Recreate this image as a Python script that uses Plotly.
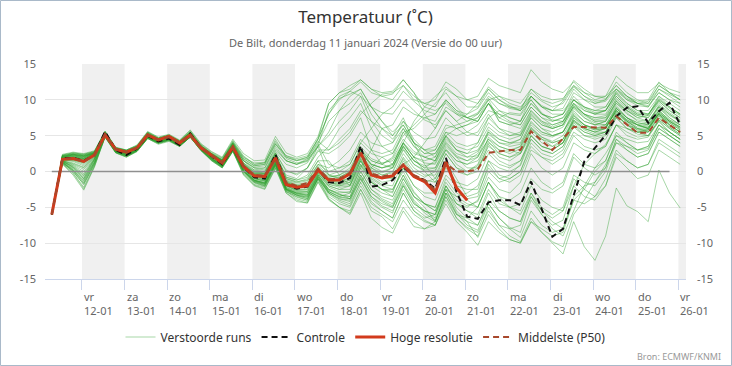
import plotly.graph_objects as go
import pandas as pd

# ---------------- data ----------------
times = pd.date_range("2024-01-11 07:00", periods=60, freq="6h")

hres = [-6.0, 1.7, 1.8, 1.4, 2.3, 5.1, 3.1, 2.7, 3.3, 5.1, 4.4, 4.9, 4.0, 5.1, 3.3, 2.2, 1.2, 3.4,
        0.7, -0.6, -0.7, 1.9, -1.8, -2.2, -2.0, 0.2, -1.2, -1.2, -0.3, 2.6, -0.5, -0.9, -0.6, 0.9,
        -0.7, -1.4, -3.0, 1.3, -2.3, -4.0]

control = [-6.0, 1.9, 1.9, 1.5, 2.3, 5.6, 3.0, 2.3, 3.2, 5.0, 4.2, 4.6, 3.7, 5.3, 3.3, 2.2, 1.0, 3.3,
           0.6, -0.8, -1.0, 2.4, -1.8, -2.4, -2.1, 0.3, -1.5, -1.6, -0.9, 3.6, -2.1, -1.9, -1.2, 0.6,
           -0.6, -1.2, -2.4, 1.9, -2.8, -6.3, -6.6, -4.3, -4.0, -4.0, -4.7, -1.4, -5.3, -9.1, -8.0, -3.3,
           1.4, 3.3, 5.1, 7.7, 8.9, 9.1, 6.8, 8.4, 9.6, 6.5]

median = [-6.0, 1.8, 1.8, 1.4, 2.3, 5.2, 3.1, 2.7, 3.3, 5.1, 4.4, 4.8, 4.0, 5.1, 3.3, 2.2, 1.2, 3.4,
          0.8, -0.5, -0.6, 1.8, -1.5, -2.0, -1.6, 0.4, -1.1, -1.0, -0.2, 2.6, -0.3, -0.7, -0.4, 1.0,
          -0.5, -1.2, -2.6, 1.1, 0.0, 0.0, 0.3, 2.6, 2.8, 3.0, 3.0, 5.6, 4.3, 3.0, 4.6, 6.2,
          6.2, 6.1, 6.1, 7.7, 6.5, 5.4, 5.4, 7.5, 6.5, 5.5]

run_01 = [-6,2.0,2.2,2.0,2.6,5.4,3.2,2.8,3.5,5.2,4.6,5.0,4.2,5.4,3.6,2.5,1.6,3.9, 1.5,0.5,0.2,2.8,1.0,0.5,1.2,3.5,5.5,8.5,10.5,11.5,9.0,7.0,5.0,6.5,4.0,3.0,3.5,6.5,6.0,6.5,7.5,9.5, 7.5,8.2,8.0,10.5,9.2,8.5,9.8,12.0,10.5,9.5,9.8,11.5,10.2,9.5,9.2,11.0,10.0,9.0]
run_02 = [-6,1.5,0.6,-1.0,1.6,5.0,2.9,2.4,3.1,4.9,4.2,4.6,3.8,5.0,3.1,1.9,0.9,3.1, 0.2,-1.2,-1.5,1.2,-2.5,-3.0,-3.2,-0.5,-2.5,-3.2,-3.8,-0.8,-3.5,-4.8,-5.5,-2.5,-5.0,-6.2,-7.0,-3.0,-5.8,-7.5,-8.2,-4.5, -6.5,-7.8,-8.5,-4.0,-6.0,-7.5,-6.8,-2.0,1.0,2.5,3.8,6.5,6.0,5.5,5.0,7.2,6.0,5.0]
run_03 = [-6,1.8,1.9,1.6,2.4,5.2,3.1,2.7,3.3,5.1,4.4,4.9,4.0,5.2,3.4,2.3,1.3,3.5, 0.8,-0.4,-0.6,2.0,-1.5,-2.0,-1.8,0.6,-0.8,-0.5,0.5,3.2,1.5,1.0,1.8,4.5,2.8,2.0,1.5,4.2,2.5,2.0,2.8,5.2, 4.0,3.5,3.8,6.5,5.2,4.8,5.5,7.8,6.5,6.0,6.2,8.5,7.0,6.0,5.8,7.8,6.5,5.5]
run_04 = [-6,2.3,2.6,2.4,2.8,5.6,3.3,3.0,3.6,5.5,4.7,5.1,4.3,5.7,3.8,2.7,1.9,4.3, 2.2,1.0,1.2,4.5,2.0,1.5,2.0,4.5,8.0,10.0,11.2,12.5,11.0,10.5,10.8,12.8,11.0,9.0,8.5,9.5,8.0,7.5,8.2,10.5, 9.5,9.0,8.8,11.0,9.8,9.0,9.5,11.8,10.5,9.8,10.0,12.5,11.0,10.0,9.5,12.0,11.0,10.0]
run_05 = [-6,1.3,0.0,-1.8,1.0,4.9,2.7,2.2,2.9,4.7,4.0,4.4,3.6,4.9,3.0,1.7,0.7,3.0, 0.0,-1.5,-2.0,1.0,-2.8,-3.5,-4.0,-0.8,-3.0,-3.8,-4.2,-1.0,-3.8,-5.0,-5.8,-2.0,-4.5,-5.5,-6.5,-2.5,-3.5,-3.0,-2.0,1.5, 0.5,0.0,0.8,4.5,3.0,2.5,3.5,6.8,5.5,5.0,5.5,8.0,6.5,5.5,5.8,8.2,7.0,6.0]
run_06 = [-6,1.6,1.5,1.0,2.1,5.0,3.0,2.6,3.2,5.0,4.3,4.8,3.9,5.0,3.2,2.1,1.1,3.3, 0.5,-0.8,-1.0,1.6,-2.0,-2.6,-2.5,0.0,-1.5,-1.8,-1.2,2.0,0.5,-0.5,-0.2,3.0,1.0,0.2,0.5,3.5,2.0,1.5,2.5,5.8, 4.5,4.0,4.5,7.5,6.0,5.5,6.2,8.8,7.5,6.8,6.5,8.2,6.8,5.8,5.5,7.5,6.2,5.2]
run_07 = [-6,2.1,2.4,2.2,2.6,5.4,3.2,2.8,3.4,5.3,4.5,5.0,4.1,5.4,3.5,2.4,1.5,3.8, 1.2,0.2,0.0,2.6,0.2,-0.5,0.5,3.0,3.0,4.5,6.0,8.5,7.0,6.0,6.5,9.0,8.0,7.5,7.0,9.8,8.2,7.5,8.0,10.2, 8.5,8.0,7.8,10.0,8.2,7.0,7.5,9.5,8.0,7.0,7.2,9.8,8.2,7.0,6.8,9.2,8.0,7.0]
run_08 = [-6,1.0,-0.5,-2.6,0.6,4.8,2.6,2.0,2.8,4.6,3.8,4.2,3.5,4.8,3.0,1.5,0.5,2.8, -0.5,-2.0,-2.5,0.5,-3.0,-4.0,-4.4,-1.5,-4.0,-5.0,-5.8,-2.5,-5.5,-6.3,-8.0,-5.0,-7.0,-8.0,-7.5,-3.5,-6.0,-7.0,-9.2,-6.0, -8.0,-9.5,-10.0,-7.0,-8.5,-9.8,-10.5,-6.0,-4.0,-1.5,1.0,4.0,3.5,3.0,3.2,6.0,5.0,4.0]
run_09 = [-6,1.9,2.0,1.8,2.5,5.3,3.2,2.8,3.4,5.2,4.5,5.0,4.1,5.3,3.5,2.4,1.4,3.7, 1.5,0.2,0.5,3.5,1.5,1.0,1.8,4.2,3.0,4.0,5.5,8.0,9.5,10.8,11.0,12.0,10.0,9.5,10.0,12.5,11.5,10.0,9.5,11.5, 10.0,9.2,8.5,10.0,8.0,7.2,7.0,9.0,7.5,6.5,7.0,9.5,8.5,7.5,7.8,10.5,9.5,8.5]
run_10 = [-6,1.7,1.7,1.3,2.2,5.1,3.0,2.6,3.3,5.0,4.4,4.8,4.0,5.1,3.3,2.2,1.2,3.4, 0.6,-0.7,-0.9,1.8,-1.8,-2.3,-2.0,0.3,-1.3,-1.5,-0.8,2.5,0.0,-0.8,-1.0,1.8,-0.5,-1.2,-1.5,1.5,0.0,-0.5,0.5,3.5, 2.5,2.0,2.8,6.0,4.8,4.2,5.0,7.8,6.5,5.8,6.0,8.5,7.0,6.2,6.5,8.8,7.5,6.5]
run_11 = [-6,1.4,0.8,-0.3,1.8,5.0,2.8,2.4,3.0,4.8,4.1,4.5,3.7,4.9,3.1,1.8,0.8,3.1, 0.1,-1.3,-1.8,1.0,-2.6,-3.3,-3.6,-1.0,-2.8,-3.5,-3.0,0.5,3.0,6.0,5.0,7.5,4.0,1.0,-1.0,1.5,-1.0,-3.5,-3.0,0.5, -1.0,-1.5,-0.5,3.0,2.0,1.5,2.5,5.5,4.5,4.0,4.5,7.5,6.0,5.2,5.0,7.0,5.5,4.5]
run_12 = [-6,2.0,2.3,2.1,2.5,5.3,3.2,2.8,3.4,5.2,4.5,4.9,4.1,5.3,3.4,2.3,1.4,3.6, 1.0,-0.2,-0.3,2.2,-0.5,-1.0,0.5,3.5,5.0,7.0,8.5,10.5,9.0,8.2,8.0,10.0,8.5,7.2,6.5,8.5,7.0,5.5,5.0,7.5, 6.0,5.0,5.5,8.5,7.0,6.2,6.8,9.5,8.0,7.2,7.5,10.2,8.8,7.8,7.5,9.8,8.5,7.5]
run_13 = [-6,1.2,0.2,-1.5,1.2,4.9,2.7,2.2,2.9,4.7,4.0,4.4,3.6,4.8,3.0,1.7,0.7,3.0, 0.0,-1.4,-1.8,1.0,-2.5,-3.2,-3.5,-0.5,-2.8,-3.5,-3.8,-0.5,-3.0,-4.2,-5.0,-1.8,-4.2,-5.8,-6.8,-3.5,-6.5,-7.8,-8.5,-5.5, -7.5,-8.0,-7.5,-3.5,-5.5,-6.5,-5.5,-1.0,-2.5,-3.5,-2.0,2.0,0.5,-1.0,-0.5,3.0,2.0,1.0]
run_14 = [-6,1.8,2.0,1.7,2.4,5.2,3.1,2.7,3.3,5.1,4.4,4.9,4.0,5.1,3.3,2.2,1.2,3.4, 0.7,-0.5,-0.7,1.9,-1.6,-2.1,-1.9,0.4,-1.0,-1.2,-0.5,2.8,0.8,0.0,0.5,3.5,1.5,0.8,1.2,4.0,2.2,1.5,2.0,4.5, 3.0,2.5,3.2,6.2,4.8,4.0,4.5,7.2,6.0,5.5,6.0,8.8,7.5,6.8,6.5,8.0,6.5,5.5]
run_15 = [-6,2.2,2.5,2.3,2.7,5.5,3.3,2.9,3.5,5.4,4.6,5.0,4.2,5.5,3.6,2.5,1.6,4.0, 1.8,0.8,1.0,3.8,1.8,1.2,1.5,3.8,1.0,0.5,1.0,4.0,6.0,8.0,9.0,11.2,9.8,8.5,8.0,10.0,8.5,8.0,8.8,11.0, 9.5,8.8,8.5,11.5,10.0,9.5,10.0,12.7,11.5,10.5,10.5,12.0,10.5,9.5,9.8,12.0,11.0,10.0]
run_16 = [-6,1.5,1.0,0.3,1.9,5.0,2.9,2.5,3.1,4.9,4.2,4.6,3.8,5.0,3.2,2.0,1.0,3.2, 0.3,-1.0,-1.3,1.4,-2.2,-2.8,-2.8,-0.2,-2.0,-2.5,-2.0,1.0,-1.0,-2.0,-2.5,0.0,-2.8,-4.5,-5.5,-2.0,-4.0,-4.8,-4.2,-0.8, -2.5,-3.0,-1.5,2.5,0.5,-0.5,0.5,4.0,3.0,2.5,3.5,6.5,5.0,4.5,4.8,7.0,5.5,4.5]
run_17 = [-6,1.9,2.1,1.8,2.5,5.3,3.1,2.7,3.4,5.2,4.5,4.9,4.1,5.2,3.4,2.3,1.3,3.5, 0.9,-0.3,-0.4,2.4,-1.0,-1.5,-1.0,1.5,-0.5,-0.8,0.0,3.0,1.5,1.0,2.0,5.5,6.0,7.5,8.0,10.0,8.5,7.5,7.0,9.5, 7.0,6.5,7.0,9.5,8.0,7.5,8.0,10.5,9.0,8.2,8.5,11.0,9.5,8.5,8.5,10.5,9.0,8.0]
run_18 = [-6,1.1,-0.2,-2.2,0.8,4.8,2.6,2.1,2.8,4.6,3.9,4.3,3.5,4.8,2.9,1.6,0.6,2.9, -0.3,-1.8,-2.2,0.6,-2.8,-3.8,-4.2,-1.2,-3.5,-4.5,-5.0,-2.0,-4.5,-5.5,-6.5,-3.0,-5.5,-6.8,-7.5,-4.0,-6.5,-8.0,-9.0,-5.0, -7.5,-9.0,-9.8,-6.5,-8.5,-10.0,-11.5,-7.0,-10.5,-12.4,-9.0,-2.3,-4.8,-5.6,-7.0,0.2,-3.0,-5.1]
run_19 = [-6,1.6,1.6,1.2,2.2,5.1,3.0,2.6,3.2,5.0,4.3,4.8,3.9,5.1,3.3,2.2,1.2,3.4, 0.6,-0.6,-0.8,1.7,-1.7,-2.2,-2.0,0.2,-1.5,-2.0,-1.8,1.5,-0.5,-1.5,-1.2,2.0,0.0,-0.8,0.0,3.0,1.5,1.0,2.0,5.5, 4.0,3.8,4.5,7.8,6.5,6.0,6.5,9.0,7.8,7.0,7.0,9.2,7.5,6.5,6.0,8.0,6.8,5.8]
run_20 = [-6,2.4,2.7,2.5,2.9,5.6,3.4,3.0,3.7,5.6,4.8,5.2,4.4,5.8,3.9,2.8,2.0,4.5, 2.5,1.5,1.6,4.9,2.6,2.0,2.5,4.9,9.5,11.0,11.5,12.8,11.5,10.5,10.0,12.0,10.5,9.5,9.0,11.5,10.5,10.0,10.5,13.0, 12.0,11.5,11.0,14.2,12.5,11.5,11.0,12.5,11.0,10.0,10.5,13.3,12.0,11.0,11.0,12.3,11.5,11.0]
run_21 = [-6,1.3,0.3,-1.2,1.3,4.9,2.8,2.3,3.0,4.8,4.1,4.5,3.7,4.9,3.1,1.8,0.8,3.0, 0.2,-1.2,-1.6,1.2,-2.3,-3.0,-3.3,-0.6,-2.5,-3.2,-3.5,0.0,-2.5,-3.8,-4.5,-1.0,-3.5,-4.5,-5.0,-1.0,-3.0,-3.8,-3.5,1.0, -1.0,-0.5,1.0,5.0,3.5,3.0,4.0,7.0,5.8,5.2,5.5,8.0,6.5,5.8,6.0,8.5,7.2,6.5]
run_22 = [-6,1.7,1.8,1.5,2.3,5.2,3.1,2.7,3.3,5.1,4.4,4.9,4.0,5.1,3.3,2.2,1.2,3.4, 0.7,-0.5,-0.6,2.0,-1.4,-1.9,-1.7,0.5,-1.0,-0.8,0.0,3.5,1.8,1.2,1.5,4.0,2.0,1.2,1.0,3.8,2.0,0.5,0.5,3.0, 1.5,0.8,1.5,4.5,3.0,2.5,3.5,6.2,5.0,4.8,5.2,7.8,6.5,6.0,6.2,8.5,7.0,6.0]
run_23 = [-6,2.1,2.3,2.0,2.6,5.4,3.2,2.8,3.4,5.3,4.5,5.0,4.1,5.4,3.5,2.4,1.5,3.8, 1.1,0.0,-0.2,2.5,-0.8,-1.2,-0.5,2.0,3.5,6.0,7.5,9.5,6.0,3.5,2.5,5.0,6.5,8.0,9.5,11.0,9.0,7.5,7.0,9.5, 8.0,7.5,7.0,10.5,9.0,8.5,8.8,11.5,10.0,9.0,9.0,11.2,10.0,9.2,9.0,11.5,10.5,9.5]
run_24 = [-6,1.2,0.0,-1.8,1.0,4.8,2.7,2.2,2.9,4.7,4.0,4.4,3.6,4.8,3.0,1.6,0.6,2.9, -0.2,-1.6,-2.1,0.8,-2.7,-3.6,-4.0,-1.0,-3.2,-4.2,-4.8,-1.5,0.5,2.0,1.0,4.0,2.0,0.0,-1.5,1.0,-2.0,-4.0,-5.0,-1.5, -4.0,-5.0,-5.5,-2.0,-4.0,-5.0,-5.5,-2.0,-3.5,-4.0,-2.0,2.5,1.5,0.5,1.0,4.5,3.5,2.5]
run_25 = [-6,1.8,1.9,1.5,2.3,5.1,3.0,2.6,3.3,5.1,4.4,4.8,4.0,5.1,3.3,2.2,1.2,3.4, 0.7,-0.6,-0.7,1.9,-1.7,-2.2,-2.0,0.3,-1.2,-1.0,-0.5,3.0,1.0,0.5,1.0,4.0,2.5,2.0,2.5,5.0,3.5,3.0,3.5,6.2, 5.0,4.5,5.0,8.0,6.5,6.0,6.5,9.2,8.0,7.5,7.8,10.0,8.5,7.8,7.5,9.5,8.2,7.2]
run_26 = [-6,2.2,2.4,2.2,2.7,5.5,3.3,2.9,3.5,5.4,4.6,5.0,4.2,5.5,3.6,2.5,1.7,4.1, 2.0,1.0,1.2,4.0,2.0,1.5,1.8,4.0,7.0,8.5,9.5,11.0,8.0,6.0,4.5,6.5,4.0,2.5,3.0,6.0,6.5,7.0,8.0,10.0, 10.5,10.0,9.5,11.5,10.5,10.0,10.2,12.0,11.0,10.5,10.2,11.5,10.0,9.5,9.5,11.5,10.8,10.0]
run_27 = [-6,1.5,1.2,0.6,2.0,5.0,2.9,2.5,3.1,4.9,4.2,4.7,3.8,5.0,3.2,2.0,1.0,3.2, 0.4,-0.9,-1.2,1.5,-2.0,-2.6,-2.6,-0.1,-1.8,-2.2,-2.0,1.5,-0.8,-1.8,-2.0,1.5,-0.8,-1.5,-1.0,2.5,0.5,-0.5,0.0,3.8, 2.0,1.5,2.5,5.8,4.5,4.0,4.5,7.0,6.0,5.5,5.5,7.5,6.0,5.5,5.8,8.2,7.0,6.2]
run_28 = [-6,1.4,0.6,-0.6,1.7,5.0,2.8,2.3,3.0,4.8,4.1,4.5,3.7,4.9,3.1,1.8,0.8,3.1, 0.1,-1.3,-1.7,1.1,-2.5,-3.3,-3.8,-1.0,-3.8,-5.0,-6.0,-3.0,-6.5,-7.8,-8.6,-5.5,-7.7,-8.0,-7.0,-3.0,-6.0,-6.5,-5.0,-1.5, -3.5,-4.0,-3.0,0.5,-1.5,-2.5,-1.5,2.5,1.0,0.5,1.5,5.5,4.0,3.0,3.5,6.5,5.0,4.0]
run_29 = [-6,2.0,2.2,1.9,2.5,5.3,3.1,2.7,3.4,5.2,4.5,4.9,4.1,5.3,3.4,2.3,1.4,3.7, 1.0,-0.2,-0.3,2.3,-1.0,-1.4,-1.2,1.0,0.5,1.5,3.0,5.5,4.0,3.5,4.0,7.0,5.5,4.5,4.8,7.5,6.0,5.0,5.5,8.0, 6.0,5.5,5.0,7.5,6.0,5.0,5.5,8.5,7.0,6.5,7.0,9.8,8.5,7.5,7.0,9.0,7.5,6.5]
run_30 = [-6,1.3,0.4,-1.0,1.4,4.9,2.8,2.3,3.0,4.8,4.1,4.5,3.7,4.9,3.1,1.8,0.8,3.1, 0.2,-1.2,-1.6,1.3,-2.4,-3.0,-3.0,-0.3,-2.2,-2.8,-3.0,0.5,-2.0,-3.0,-3.5,-0.5,-3.0,-4.5,-5.5,-2.5,-5.5,-7.0,-7.5,-4.0, -5.5,-6.5,-7.0,-3.5,-6.0,-8.0,-9.0,-5.5,-2.0,0.5,2.5,5.0,4.5,4.0,4.2,6.5,5.5,4.5]
run_31 = [-6,1.7,1.7,1.4,2.3,5.1,3.1,2.7,3.3,5.1,4.4,4.8,4.0,5.1,3.3,2.2,1.2,3.4, 0.7,-0.5,-0.8,1.8,-1.6,-2.1,-1.9,0.4,-1.2,-1.4,-1.0,2.2,0.2,-0.5,0.0,3.2,1.0,0.0,0.2,3.0,1.0,0.0,0.8,4.0, 3.0,2.8,3.5,6.8,5.5,5.0,5.5,8.2,7.0,6.5,6.5,8.8,7.2,6.5,6.2,8.0,6.8,5.8]
run_32 = [-6,1.5,0.9,0.0,1.8,5.0,2.9,2.4,3.1,4.9,4.2,4.6,3.8,5.0,3.2,1.9,0.9,3.2, 0.3,-1.0,-1.4,1.3,-2.2,-2.9,-3.0,-0.5,-2.5,-3.0,-2.8,0.8,-1.5,-2.5,-2.5,0.5,-2.0,-3.5,-4.0,-0.5,-2.0,-2.5,-2.5,1.5, -0.5,-1.0,0.0,3.5,2.0,1.0,2.0,5.0,3.5,3.0,3.5,6.5,5.5,4.8,5.0,7.2,6.0,5.0]
run_33 = [-6,2.0,2.3,2.1,2.6,5.4,3.2,2.8,3.5,5.3,4.5,5.0,4.1,5.4,3.5,2.4,1.5,3.9, 1.5,0.5,0.5,3.0,1.5,1.0,1.6,3.5,-0.5,-1.0,-0.5,2.5,1.0,0.5,1.0,4.0,7.0,9.0,10.5,11.8,10.5,9.0,9.0,11.5, 10.0,9.0,8.5,10.5,9.0,8.0,8.0,10.0,8.5,8.0,8.5,11.0,9.5,8.5,8.0,10.0,9.0,8.0]
run_34 = [-6,1.9,2.0,1.7,2.4,5.2,3.1,2.7,3.3,5.1,4.4,4.9,4.0,5.2,3.3,2.2,1.3,3.5, 0.8,-0.4,-0.5,2.1,-1.3,-1.8,-1.5,0.8,-0.5,0.0,1.0,4.0,2.5,2.0,2.5,5.5,3.5,2.5,2.5,5.0,3.0,2.5,3.0,5.5, 4.5,4.0,4.0,7.0,5.5,5.0,5.5,8.0,6.5,6.0,6.2,8.5,7.2,6.5,6.0,8.2,7.0,6.2]
run_35 = [-6,1.1,-0.3,-2.4,0.7,4.8,2.6,2.0,2.8,4.6,3.9,4.3,3.5,4.8,2.9,1.5,0.5,2.8, -0.4,-1.9,-2.4,0.4,-3.0,-4.2,-4.4,-1.4,-3.8,-5.0,-5.5,-2.5,-5.0,-6.0,-7.0,-4.0,-6.0,-7.0,-7.5,-4.5,-7.0,-8.5,-10.3,-7.0, -8.5,-9.5,-10.0,-7.0,-8.0,-9.0,-8.5,-4.0,-4.5,-3.5,-1.0,3.0,1.5,0.5,1.0,4.0,3.0,2.0]
run_36 = [-6,1.6,1.4,0.8,2.1,5.0,3.0,2.5,3.2,5.0,4.3,4.7,3.9,5.0,3.2,2.1,1.1,3.3, 0.5,-0.8,-1.1,1.6,-1.9,-2.5,-2.4,0.1,-1.8,-2.0,-1.5,1.8,-1.2,-2.5,-3.5,-0.5,-3.5,-5.0,-7.0,-3.0,-4.5,-5.0,-4.0,0.0, -1.5,-1.0,0.0,4.0,2.5,2.0,3.0,6.5,5.0,4.5,5.0,7.8,6.5,5.5,5.5,7.8,6.5,5.5]
run_37 = [-6,2.3,2.6,2.4,2.8,5.6,3.3,3.0,3.6,5.5,4.7,5.1,4.3,5.6,3.7,2.6,1.8,4.2, 2.0,1.2,1.3,4.2,2.2,1.6,2.0,4.5,8.0,10.5,11.2,10.5,7.0,5.0,4.0,6.0,3.5,2.0,1.5,4.5,3.0,2.5,4.0,7.5, 8.5,7.5,7.0,9.5,8.0,7.5,8.0,11.0,10.0,9.5,10.0,12.0,10.5,9.8,10.0,12.5,11.0,10.5]
run_38 = [-6,1.8,1.8,1.4,2.3,5.1,3.0,2.6,3.3,5.0,4.4,4.8,4.0,5.1,3.3,2.2,1.2,3.4, 0.6,-0.6,-0.8,1.8,-1.7,-2.2,-2.1,0.2,-1.4,-1.6,-1.2,2.5,0.5,-0.2,0.5,3.8,2.0,1.5,2.0,4.8,3.0,2.0,2.2,4.5, 3.5,3.0,2.5,5.0,3.5,3.0,4.0,7.5,6.5,6.0,6.5,9.0,7.5,6.5,6.0,8.0,6.5,5.5]
run_39 = [-6,1.4,0.7,-0.5,1.7,5.0,2.8,2.4,3.0,4.8,4.1,4.5,3.7,4.9,3.1,1.8,0.8,3.1, 0.1,-1.2,-1.7,1.0,-2.4,-3.1,-3.3,-0.7,-2.8,-3.6,-3.8,-0.5,-3.0,-4.0,-4.8,-1.5,-4.0,-5.5,-6.0,-2.0,-4.5,-5.5,-6.0,-2.5, -4.5,-5.0,-4.5,-1.0,-2.5,-3.0,-2.0,2.0,0.5,-0.5,0.5,4.5,3.0,2.0,2.5,5.5,4.5,3.5]
run_40 = [-6,2.1,2.4,2.1,2.6,5.4,3.2,2.8,3.4,5.3,4.5,5.0,4.1,5.4,3.5,2.4,1.5,3.8, 1.2,0.0,0.0,2.6,0.0,-0.3,0.5,2.8,2.5,3.5,5.0,7.5,3.0,1.0,0.5,3.5,1.5,0.5,1.5,5.0,6.0,6.5,7.0,9.5, 7.5,6.8,6.5,9.0,7.5,7.0,7.5,10.0,8.8,8.0,8.0,10.5,9.0,8.0,7.8,10.0,8.8,7.8]
run_41 = [-6,1.7,1.6,1.2,2.2,5.1,3.0,2.6,3.2,5.0,4.3,4.8,3.9,5.1,3.2,2.1,1.1,3.3, 0.5,-0.7,-0.9,1.7,-1.8,-2.3,-2.2,0.1,-1.5,-1.8,-1.5,1.8,-0.2,-1.0,-0.8,2.5,0.5,-0.5,-0.5,2.5,0.5,0.0,1.0,4.8, 3.5,3.0,3.5,6.0,4.5,3.5,4.0,6.5,5.5,5.0,5.5,8.2,7.0,6.5,6.8,9.0,7.8,7.0]
run_42 = [-6,1.2,0.1,-1.6,1.1,4.9,2.7,2.1,2.9,4.7,4.0,4.4,3.6,4.8,3.0,1.6,0.6,2.9, -0.1,-1.5,-2.0,0.8,-2.6,-3.4,-3.8,-1.0,-3.0,-4.0,-4.5,-1.5,-4.2,-5.5,-6.5,-3.0,-5.5,-6.5,-6.0,-2.0,-4.5,-5.5,-6.5,-3.0, -5.5,-6.5,-7.0,-3.0,-5.0,-6.0,-5.0,-0.5,-1.5,-2.0,0.0,4.0,3.0,2.0,2.5,5.5,4.5,3.5]
run_43 = [-6,2.2,2.5,2.3,2.7,5.5,3.3,2.9,3.5,5.4,4.6,5.0,4.2,5.5,3.6,2.5,1.6,4.0, 1.8,0.8,1.0,3.8,2.2,1.8,2.2,4.6,9.5,11.0,12.0,12.8,11.5,11.0,11.2,12.8,11.0,8.0,6.0,8.5,7.0,8.0,9.5,11.8, 10.5,9.5,9.0,10.5,9.0,8.5,8.5,10.0,9.0,8.5,9.0,11.5,10.5,9.5,9.0,11.0,10.0,9.5]
run_44 = [-6,1.8,1.9,1.6,2.4,5.2,3.1,2.7,3.3,5.1,4.4,4.8,4.0,5.1,3.3,2.2,1.2,3.4, 0.7,-0.5,-0.7,1.9,-1.5,-2.0,-1.8,0.5,-0.8,-0.5,0.2,3.0,1.0,0.5,0.8,3.5,1.5,0.5,0.5,3.2,1.5,1.0,1.5,4.2, 2.5,2.0,2.5,5.5,4.0,3.5,4.5,7.5,6.2,5.8,6.0,8.5,7.0,6.0,5.5,7.5,6.2,5.2]
run_45 = [-6,1.3,0.2,-1.3,1.3,4.9,2.7,2.2,2.9,4.7,4.0,4.4,3.6,4.8,3.0,1.7,0.7,3.0, 0.0,-1.4,-1.9,0.9,-2.5,-3.3,-3.6,-0.8,-3.0,-3.8,-4.0,-1.0,-3.5,-4.5,-5.0,-2.0,-4.5,-5.5,-6.0,-2.5,-5.0,-6.5,-7.5,-4.5, -6.5,-8.0,-9.2,-5.5,-7.5,-8.5,-8.0,-3.5,-2.0,-1.5,0.5,4.5,3.5,2.5,3.0,6.0,5.0,4.0]
run_46 = [-6,1.9,2.1,1.8,2.5,5.3,3.1,2.7,3.4,5.2,4.5,4.9,4.1,5.2,3.4,2.3,1.3,3.6, 0.9,-0.3,-0.4,2.2,-1.2,-1.6,-1.3,1.0,0.0,0.5,1.5,4.5,3.0,2.5,3.0,6.0,4.0,3.0,3.0,5.5,4.0,3.5,4.0,6.8, 5.5,5.0,5.2,8.2,6.8,6.0,6.5,9.2,8.0,7.5,7.5,9.5,8.0,7.2,7.0,9.2,8.0,7.0]
run_47 = [-6,1.5,1.1,0.5,2.0,5.0,2.9,2.5,3.1,4.9,4.2,4.6,3.8,5.0,3.2,2.0,1.0,3.2, 0.4,-1.0,-1.3,1.4,-2.0,-2.7,-2.8,-0.3,-2.0,-2.5,-2.5,1.0,-1.5,-2.5,-2.8,0.5,-2.0,-3.0,-3.0,0.5,-1.5,-2.0,-1.0,2.5, 1.0,0.5,1.5,5.0,3.5,3.0,4.0,7.2,6.0,5.5,6.0,8.8,7.5,6.8,6.5,8.5,7.2,6.2]
run_48 = [-6,2.1,2.4,2.2,2.6,5.4,3.2,2.9,3.5,5.3,4.6,5.0,4.2,5.4,3.5,2.4,1.6,4.0, 1.6,0.6,0.8,3.2,1.5,1.0,1.4,3.6,8.5,10.2,10.8,11.5,9.0,7.0,5.5,7.0,4.5,3.0,2.0,5.5,5.0,5.5,6.5,8.5, 8.0,7.0,6.5,9.0,7.5,6.5,7.0,9.5,8.5,8.0,8.5,10.5,9.0,8.0,8.0,10.2,9.0,8.0]
run_49 = [-6,2.0,2.2,1.9,2.5,5.3,3.1,2.8,3.4,5.2,4.5,4.9,4.1,5.3,3.4,2.3,1.4,3.7, 1.0,-0.1,-0.2,2.4,-0.8,-1.2,-0.8,1.5,1.5,-0.5,-2.0,1.5,-1.5,-2.5,-3.0,1.0,2.0,4.0,6.0,9.0,8.0,7.0,7.5,10.0, 7.0,6.5,6.0,8.5,7.0,6.5,7.0,10.0,9.0,8.5,8.5,10.8,9.2,8.2,8.0,9.8,8.5,7.5]
run_50 = [-6,1.4,0.5,-0.8,1.6,5.0,2.8,2.3,3.0,4.8,4.1,4.5,3.7,4.9,3.1,1.8,0.8,3.1, 0.1,-1.3,-1.6,1.1,-2.4,-3.1,-3.4,-0.8,-2.6,-3.3,-3.5,0.0,-2.5,-3.5,-4.0,-1.0,-3.5,-4.5,-5.0,-1.5,-3.5,-4.5,-5.0,-1.5, -3.5,-5.0,-6.0,-3.0,-5.5,-7.0,-8.0,-4.0,-2.5,0.0,1.5,5.0,4.0,3.0,3.5,6.5,5.5,4.5]

runs = [run_01, run_02, run_03, run_04, run_05, run_06, run_07, run_08, run_09, run_10,
        run_11, run_12, run_13, run_14, run_15, run_16, run_17, run_18, run_19, run_20,
        run_21, run_22, run_23, run_24, run_25, run_26, run_27, run_28, run_29, run_30,
        run_31, run_32, run_33, run_34, run_35, run_36, run_37, run_38, run_39, run_40,
        run_41, run_42, run_43, run_44, run_45, run_46, run_47, run_48, run_49, run_50]

day_ticks = pd.date_range("2024-01-12", "2024-01-26", freq="D")
weekday_labels = ["vr", "za", "zo", "ma", "di", "wo", "do", "vr", "za", "zo", "ma", "di", "wo", "do", "vr"]
date_labels = ["12-01", "13-01", "14-01", "15-01", "16-01", "17-01", "18-01", "19-01",
               "20-01", "21-01", "22-01", "23-01", "24-01", "25-01", "26-01"]
shaded_days = ["2024-01-12", "2024-01-14", "2024-01-16", "2024-01-18",
               "2024-01-20", "2024-01-22", "2024-01-24", "2024-01-26"]
y_ticks = [-15, -10, -5, 0, 5, 10, 15]
y_ticktext = ["-15", "-10", "-5", "0", "5", "10", "15"]
x_range = [pd.Timestamp("2024-01-11 03:10"), pd.Timestamp("2024-01-26 04:17")]

FONT = "Noto Sans, DejaVu Sans, sans-serif"

# ---------------- figure ----------------
fig = go.Figure()

for k, r in enumerate(runs):
    fig.add_trace(go.Scatter(
        x=times, y=r, mode="lines", name="Verstoorde runs", legendgroup="runs",
        showlegend=(k == 0), line=dict(color="rgba(45,160,45,0.42)", width=1),
        hoverinfo="skip"))

# zero reference line (runs from first time step to the 25-01 19h step)
fig.add_trace(go.Scatter(x=[times[0], times[58]], y=[0, 0], mode="lines", showlegend=False,
                         line=dict(color="#8f8f8f", width=1.5), hoverinfo="skip"))

fig.add_trace(go.Scatter(x=times, y=control, mode="lines", name="Controle",
                         line=dict(color="#111111", width=2, dash="6px,4px")))
fig.add_trace(go.Scatter(x=times[:len(hres)], y=hres, mode="lines", name="Hoge resolutie",
                         line=dict(color="#d23a1c", width=3)))
fig.add_trace(go.Scatter(x=times, y=median, mode="lines", name="Middelste (P50)",
                         line=dict(color="#a8482c", width=2, dash="6px,4px")))
# invisible trace to activate right axis
fig.add_trace(go.Scatter(x=[times[0]], y=[None], yaxis="y2", showlegend=False, hoverinfo="skip"))

shapes = []
for d in shaded_days:
    x0 = pd.Timestamp(d)
    x1 = min(x0 + pd.Timedelta(days=1), x_range[1])
    shapes.append(dict(type="rect", xref="x", yref="paper", x0=x0, x1=x1, y0=0, y1=1,
                       fillcolor="#f0f0f0", line=dict(width=0), layer="below"))
# outer border of the chart
W, H, L, R, T, B = 732, 366, 45, 46, 64, 87
pw, ph = W - L - R, H - T - B
shapes.append(dict(type="rect", xref="paper", yref="paper",
                   x0=(0.5 - L) / pw, x1=(W - 0.5 - L) / pw,
                   y0=-(B - 0.5) / ph, y1=1 + (T - 0.5) / ph,
                   line=dict(color="#a9b9c9", width=1), fillcolor="rgba(0,0,0,0)", layer="above"))

annotations = []
for d, wd, dl in zip(day_ticks, weekday_labels, date_labels):
    annotations.append(dict(x=d, xref="x", y=-8 / ph, yref="paper", text=f"{wd}<br>{dl}",
                            showarrow=False, xanchor="left", yanchor="top", align="left",
                            font=dict(size=11, color="#666666", family=FONT)))
annotations.append(dict(x=0.5, xref="paper", y=1 + (T - 43) / ph, yref="paper",
                        text="De Bilt, donderdag 11 januari 2024 (Versie do 00 uur)",
                        showarrow=False, xanchor="center", yanchor="middle",
                        font=dict(size=11, color="#666666", family=FONT)))
annotations.append(dict(x=(723 - L) / pw, xref="paper", y=-(356 - (H - B)) / ph, yref="paper",
                        text="Bron: ECMWF/KNMI", showarrow=False, xanchor="right", yanchor="middle",
                        font=dict(size=9, color="#999999", family=FONT)))

fig.update_layout(
    width=W, height=H, margin=dict(l=L, r=R, t=T, b=B),
    paper_bgcolor="white", plot_bgcolor="white",
    font=dict(family=FONT, size=11, color="#666666"),
    title=dict(text="Temperatuur (˚C)", x=0.5, xref="paper", xanchor="center",
               y=1 - 17 / H, yanchor="middle", font=dict(size=17, color="#333333", family=FONT)),
    xaxis=dict(type="date", range=x_range, showgrid=False, zeroline=False,
               tickvals=list(day_ticks), showticklabels=False, ticks="outside", ticklen=10,
               tickcolor="#ccd6eb", showline=True, linecolor="#ccd6eb", linewidth=1),
    yaxis=dict(range=[-15, 15], tickvals=y_ticks, ticktext=y_ticktext, showgrid=True,
               gridcolor="#e6e6e6", gridwidth=1, zeroline=False, ticks="", ticklabelstandoff=8,
               tickfont=dict(size=11, color="#666666")),
    yaxis2=dict(range=[-15, 15], tickvals=y_ticks, ticktext=y_ticktext, overlaying="y",
                side="right", showgrid=False, zeroline=False, ticks="", ticklabelstandoff=10,
                tickfont=dict(size=11, color="#666666")),
    legend=dict(orientation="h", x=0.5, xanchor="center", y=-(337 - (H - B)) / ph, yanchor="middle",
                font=dict(size=12, color="#333333", family=FONT), itemwidth=30,
                bgcolor="rgba(0,0,0,0)"),
    shapes=shapes, annotations=annotations, hovermode=False,
)

fig.write_html("out.html", config={"displayModeBar": False},
               post_script="document.body.style.margin='0px';")
